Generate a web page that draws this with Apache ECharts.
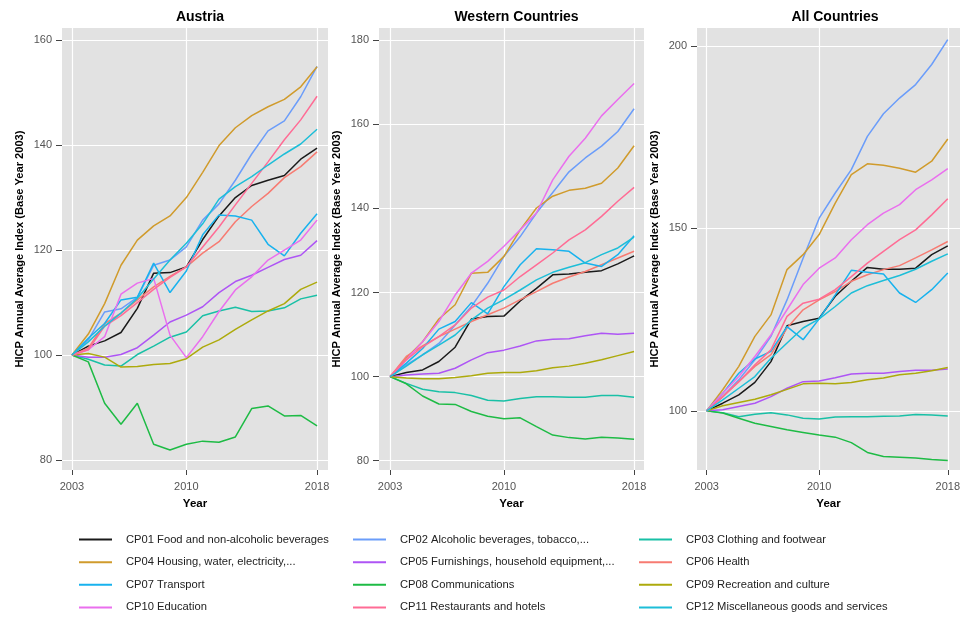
<!DOCTYPE html>
<html>
<head>
<meta charset="utf-8">
<script src="https://cdn.jsdelivr.net/npm/echarts@6/dist/echarts.min.js"></script>
<style>
html,body{margin:0;padding:0;background:#fff;}
#chart{width:963px;height:623px;}
</style>
</head>
<body>
<div id="chart"></div>
<script>
// ---- data ----
const years = [2003,2004,2005,2006,2007,2008,2009,2010,2011,2012,2013,2014,2015,2016,2017,2018];
const xTicks = [2003, 2010, 2018];
const panelTitles = ['Austria', 'Western Countries', 'All Countries'];
const seriesNames = [
  'CP01 Food and non-alcoholic beverages',
  'CP02 Alcoholic beverages, tobacco,...',
  'CP03 Clothing and footwear',
  'CP04 Housing, water, electricity,...',
  'CP05 Furnishings, household equipment,...',
  'CP06 Health',
  'CP07 Transport',
  'CP08 Communications',
  'CP09 Recreation and culture',
  'CP10 Education',
  'CP11 Restaurants and hotels',
  'CP12 Miscellaneous goods and services'
];
const austriaTicks = [80, 100, 120, 140, 160];
const westernTicks = [80, 100, 120, 140, 160, 180];
const allTicks = [100, 150, 200];

// Austria
const austriaCP01 = [100, 101.7, 102.7, 104.3, 108.9, 115.6, 115.7, 116.8, 122, 126.5, 130, 132.3, 133.3, 134.2, 137.3, 139.4];
const austriaCP02 = [100, 102.9, 108.2, 108.8, 111, 117.1, 118.1, 120.6, 125.7, 128.8, 133.3, 138.3, 142.7, 144.6, 149.2, 155];
const austriaCP03 = [100, 99.2, 98.1, 97.9, 100.1, 101.7, 103.4, 104.4, 107.5, 108.4, 109.1, 108.3, 108.4, 109, 110.7, 111.4];
const austriaCP04 = [100, 104, 109.8, 117.1, 121.9, 124.6, 126.5, 130, 134.8, 139.9, 143.3, 145.6, 147.3, 148.7, 151.1, 154.9];
const austriaCP05 = [100, 99.6, 99.6, 100.1, 101.4, 103.8, 106.3, 107.6, 109.2, 111.9, 114, 115.2, 116.7, 118.2, 119, 121.8];
const austriaCP06 = [100, 101.3, 106, 108, 110.5, 113, 115, 116.8, 119.4, 121.6, 125.4, 128.3, 130.8, 133.8, 135.9, 138.7];
const austriaCP07 = [100, 103.2, 106, 110.5, 111, 117.5, 111.9, 116, 122.9, 126.7, 126.5, 125.7, 121.1, 118.9, 123.2, 126.9];
const austriaCP08 = [100, 98.7, 90.8, 86.8, 90.8, 83, 81.9, 83, 83.6, 83.4, 84.4, 89.8, 90.3, 88.4, 88.5, 86.5];
const austriaCP09 = [100, 100.3, 99.6, 97.7, 97.8, 98.2, 98.4, 99.3, 101.5, 102.9, 104.9, 106.7, 108.4, 109.8, 112.5, 113.9];
const austriaCP10 = [100, 101, 103.5, 111.6, 113.7, 114.6, 103.8, 99.5, 103.5, 108.3, 112.4, 114.9, 118.1, 120, 121.9, 125.7];
const austriaCP11 = [100, 101, 105.5, 107.5, 110, 112.5, 114.8, 116.8, 120.6, 124.4, 128.6, 132.7, 136.8, 141, 144.8, 149.3];
const austriaCP12 = [100, 102.5, 105.5, 108, 110.8, 114.5, 118.1, 121.3, 125, 129.7, 132.1, 134, 136.2, 138.3, 140.2, 143];

// Western Countries
const westernCP01 = [100, 101, 101.6, 103.6, 107, 113.7, 114.3, 114.4, 118, 121, 124.2, 124.4, 124.8, 125.2, 126.8, 128.7];
const westernCP02 = [100, 102.8, 105.2, 107.9, 112.3, 116.7, 122.2, 128.6, 133.3, 138.9, 143.8, 148.7, 152, 154.8, 158.3, 163.7];
const westernCP03 = [100, 98.4, 97, 96.4, 96.2, 95.5, 94.4, 94.2, 94.8, 95.2, 95.2, 95.1, 95.1, 95.5, 95.5, 95.1];
const westernCP04 = [100, 104.4, 108.3, 113.7, 117.1, 124.6, 124.8, 128.6, 134.9, 140.1, 142.9, 144.3, 144.8, 146, 149.6, 154.9];
const westernCP05 = [100, 100.4, 100.6, 100.8, 102, 104, 105.7, 106.3, 107.3, 108.5, 108.9, 109, 109.7, 110.3, 110.1, 110.3];
const westernCP06 = [100, 104.8, 107.3, 109.5, 111.3, 113.1, 114.7, 116.3, 118.3, 120.2, 122.2, 123.7, 125, 126.6, 128.2, 129.8];
const westernCP07 = [100, 103.2, 106.7, 111.3, 113.1, 117.6, 114.9, 121.4, 126.6, 130.4, 130.2, 129.8, 127, 126.2, 129, 133.5];
const westernCP08 = [100, 98.3, 95.4, 93.5, 93.4, 91.7, 90.6, 90, 90.2, 88.1, 86.1, 85.5, 85.2, 85.6, 85.4, 85.1];
const westernCP09 = [100, 99.7, 99.5, 99.5, 99.8, 100.2, 100.8, 101, 101, 101.4, 102.1, 102.5, 103.2, 104, 105, 106];
const westernCP10 = [100, 104, 108.3, 113.1, 119.4, 124.6, 127.4, 131, 134.9, 138.9, 146.8, 152.4, 156.7, 162, 165.9, 169.7];
const westernCP11 = [100, 104, 107.1, 109.5, 112.3, 116.3, 118.9, 120.6, 123.8, 126.6, 129.4, 132.5, 134.9, 138.1, 141.7, 145];
const westernCP12 = [100, 102.5, 105.2, 107.5, 109.9, 113.5, 116.3, 118.3, 120.6, 123, 124.8, 126, 127.1, 129, 130.6, 133.2];

// All Countries
const allCP01 = [100, 102.1, 104.4, 107.8, 113.5, 123.3, 124.5, 125.4, 131.4, 135.5, 139.3, 138.8, 138.8, 139.1, 142.8, 145.2];
const allCP02 = [100, 103.9, 108.5, 114, 120.4, 130.4, 141.8, 152.8, 159.7, 166.1, 175.2, 181.4, 185.7, 189.4, 194.9, 201.7];
const allCP03 = [100, 99.5, 98.4, 99.1, 99.5, 98.9, 98, 97.8, 98.3, 98.4, 98.4, 98.5, 98.6, 99, 98.9, 98.6];
const allCP04 = [100, 105.8, 112.2, 120.4, 126.3, 138.7, 142.8, 148.3, 156.9, 164.7, 167.7, 167.3, 166.5, 165.4, 168.4, 174.5];
const allCP05 = [100, 100.3, 101.2, 102.1, 103.9, 106.2, 108, 108.2, 109.1, 110.1, 110.3, 110.3, 110.8, 111.1, 111.1, 111.5];
const allCP06 = [100, 103.9, 108, 112.2, 115.4, 122.7, 127.7, 130.4, 132.7, 135.5, 137.3, 138.7, 139.8, 141.9, 144.1, 146.4];
const allCP07 = [100, 104.8, 110.3, 114.2, 116.3, 123.1, 119.5, 125.2, 131.8, 138.5, 138, 137.5, 132.3, 129.7, 133.2, 137.8];
const allCP08 = [100, 99.4, 98, 96.6, 95.7, 94.8, 94.1, 93.4, 92.8, 91.3, 88.6, 87.5, 87.3, 87.1, 86.7, 86.4];
const allCP09 = [100, 101.4, 102.3, 103.2, 104.4, 105.9, 107.4, 107.6, 107.4, 107.8, 108.5, 109, 109.9, 110.3, 111, 111.9];
const allCP10 = [100, 104.8, 109.4, 114.9, 120.8, 127.7, 134.6, 139.1, 141.9, 146.9, 151, 154.2, 156.5, 160.6, 163.3, 166.4];
const allCP11 = [100, 103.9, 108, 112.6, 116.7, 125.9, 129.5, 130.6, 133.2, 136.8, 140.5, 143.7, 146.9, 149.6, 153.7, 158.1];
const allCP12 = [100, 103, 106.2, 109.4, 114.4, 118.6, 122.7, 125.2, 128.6, 132.3, 134.3, 135.7, 137.1, 138.8, 141, 143];

// ---- styling ----
const colors = ['#1a1a1a', '#6B9DFA', '#19C0A6', '#D09B2C', '#AE55F5', '#F77B72',
                '#18B2EE', '#1EBB45', '#ADAA0C', '#EA6FEE', '#FF6C95', '#1DBED8'];
const FONT = '"Liberation Sans", Arial, sans-serif';

const panelData = [
  [austriaCP01, austriaCP02, austriaCP03, austriaCP04, austriaCP05, austriaCP06, austriaCP07, austriaCP08, austriaCP09, austriaCP10, austriaCP11, austriaCP12],
  [westernCP01, westernCP02, westernCP03, westernCP04, westernCP05, westernCP06, westernCP07, westernCP08, westernCP09, westernCP10, westernCP11, westernCP12],
  [allCP01, allCP02, allCP03, allCP04, allCP05, allCP06, allCP07, allCP08, allCP09, allCP10, allCP11, allCP12]
];
const yTicks = [austriaTicks, westernTicks, allTicks];
const yRange = [[78.1, 162.3], [77.8, 182.9], [83.8, 204.9]];
const xRange = [[2002.39, 2018.67], [2002.32, 2018.61], [2002.4, 2018.76]];
const grids = [
  {left: 62, top: 28, width: 266, height: 442},
  {left: 379, top: 28, width: 265, height: 442},
  {left: 697, top: 28, width: 266, height: 442}
];

const option = {
  animation: false,
  color: colors,
  title: panelTitles.map((t, i) => ({
    text: t,
    left: grids[i].left + grids[i].width / 2,
    top: 5,
    textAlign: 'center',
    textStyle: {fontFamily: FONT, fontSize: 14, fontWeight: 'bold', color: '#000'}
  })),
  grid: grids.map(g => Object.assign({show: true, backgroundColor: '#E2E2E2', borderWidth: 0, containLabel: false}, g)),
  xAxis: grids.map((g, i) => ({
    type: 'value', gridIndex: i, min: xRange[i][0], max: xRange[i][1],
    name: 'Year', nameLocation: 'middle', nameGap: 28,
    nameTextStyle: {fontFamily: FONT, fontSize: 11.5, fontWeight: 'bold', color: '#000'},
    axisLine: {show: false},
    axisTick: {show: true, length: 5, lineStyle: {color: '#444'}, customValues: xTicks},
    axisLabel: {customValues: xTicks, formatter: v => String(v), fontFamily: FONT, fontSize: 11, color: '#555', margin: 11},
    splitLine: {show: true, lineStyle: {color: '#FFFFFF', width: 1.2}}
  })),
  yAxis: grids.map((g, i) => ({
    type: 'value', gridIndex: i, min: yRange[i][0], max: yRange[i][1],
    name: 'HICP Annual Average Index (Base Year 2003)', nameLocation: 'middle', nameGap: 37,
    nameTextStyle: {fontFamily: FONT, fontSize: 11.1, fontWeight: 'bold', color: '#000'},
    axisLine: {show: false},
    axisTick: {show: true, length: 6, lineStyle: {color: '#444'}, customValues: yTicks[i]},
    axisLabel: {customValues: yTicks[i], formatter: v => String(v), fontFamily: FONT, fontSize: 11, color: '#555', margin: 10},
    splitLine: {show: true, lineStyle: {color: '#FFFFFF', width: 1.2}}
  })),
  legend: [
    [0, 3, 6, 9], [1, 4, 7, 10], [2, 5, 8, 11]
  ].map((idx, c) => ({
    orient: 'vertical',
    left: [78, 352, 638][c],
    top: 534,
    padding: 0,
    itemWidth: 33, itemHeight: 14, itemGap: 11.4,
    data: idx.map(k => seriesNames[k]),
    selectedMode: false,
    itemStyle: {opacity: 0},
    lineStyle: {width: 2},
    textStyle: {fontFamily: FONT, fontSize: 11.2, color: '#222', padding: [0, 0, 0, 9]}
  })),
  series: []
};

panelData.forEach((arrs, p) => {
  arrs.forEach((arr, k) => {
    option.series.push({
      type: 'line',
      name: seriesNames[k],
      xAxisIndex: p, yAxisIndex: p,
      symbol: 'none',
      color: colors[k],
      lineStyle: {width: 1.5, color: colors[k]},
      emphasis: {disabled: true},
      data: years.map((y, j) => [y, arr[j]])
    });
  });
});

const chart = echarts.init(document.getElementById('chart'), null, {renderer: 'canvas'});
chart.setOption(option);
</script>
</body>
</html>
